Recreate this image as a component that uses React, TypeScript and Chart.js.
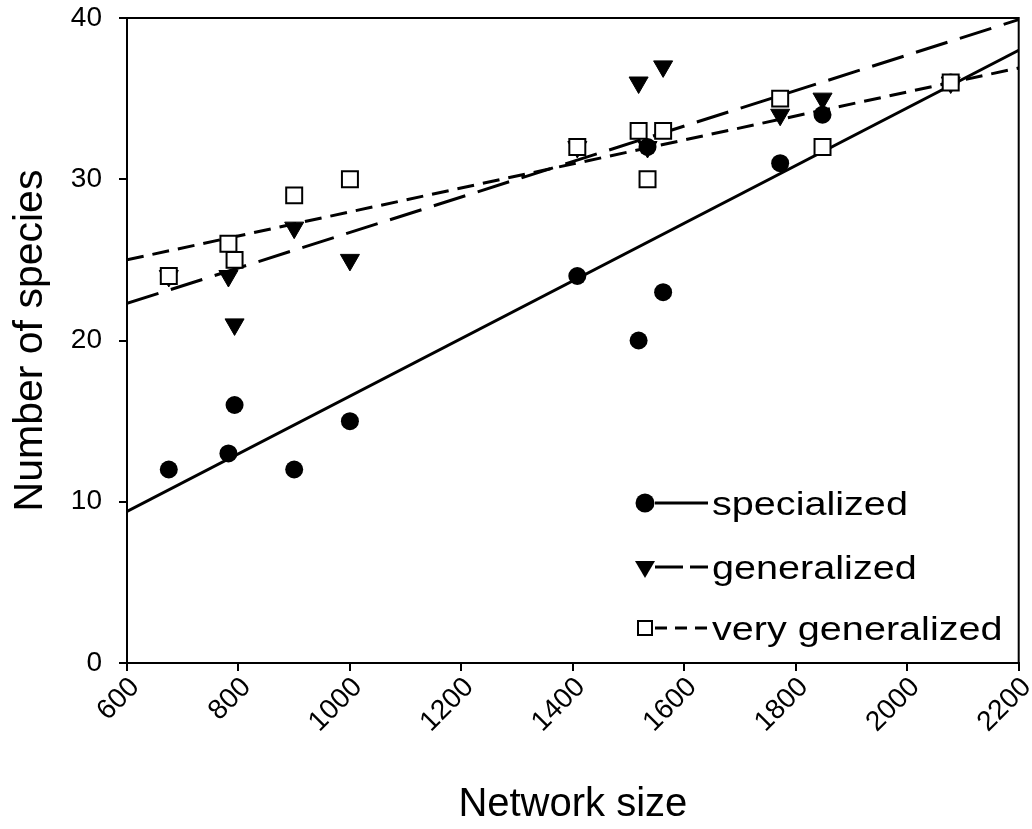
import React, { useEffect, useRef } from "react";
import { Chart, registerables } from "chart.js";

Chart.register(...registerables);

// ---- data ----
const networkSize = [675, 782, 793, 900, 1000, 1408, 1518, 1534, 1562, 1772, 1848, 2078];
const specialized = [12, 13, 16, 12, 15, 24, 20, 32, 23, 31, 34, 36];
const generalized = [24, 24, 21, 27, 25, 32, 36, 32, 37, 34, 35, 36];
const veryGeneralized = [24, 26, 25, 29, 30, 32, 33, 30, 33, 35, 32, 36];

const fitX = [600, 2200];
const specializedFit = [9.4, 38.0];
const generalizedFit = [22.3, 39.9];
const veryGeneralizedFit = [25.0, 36.9];

const legendLabels = ["specialized", "generalized", "very generalized"];
const xTitle = "Network size";
const yTitle = "Number of species";

const FONT = '"Liberation Sans", Arial, Helvetica, sans-serif';

const toPoints = (xs: number[], ys: number[]) => xs.map((x, i) => ({ x, y: ys[i] }));

const framePlugin = {
  id: "frame",
  afterDraw(chart: any) {
    const { ctx, chartArea } = chart;
    ctx.save();
    ctx.strokeStyle = "#000";
    ctx.lineWidth = 2;
    ctx.beginPath();
    ctx.moveTo(chartArea.left, chartArea.top);
    ctx.lineTo(chartArea.right, chartArea.top);
    ctx.lineTo(chartArea.right, chartArea.bottom);
    ctx.stroke();
    ctx.restore();
  },
};

const legendPlugin = {
  id: "customLegend",
  afterDraw(chart: any) {
    const ctx = chart.ctx as CanvasRenderingContext2D;
    const rows = [
      { label: legendLabels[0], marker: "circle", dash: [] as number[], y: 503 },
      { label: legendLabels[1], marker: "triangle", dash: [28, 7], y: 567 },
      { label: legendLabels[2], marker: "rect", dash: [12, 8], y: 628 },
    ];
    const mx = 645;
    ctx.save();
    rows.forEach((r) => {
      ctx.beginPath();
      ctx.setLineDash(r.dash);
      ctx.lineWidth = 3;
      ctx.strokeStyle = "#000";
      ctx.moveTo(655, r.y);
      ctx.lineTo(708, r.y);
      ctx.stroke();
      ctx.setLineDash([]);

      ctx.fillStyle = "#000";
      if (r.marker === "circle") {
        ctx.beginPath();
        ctx.arc(mx, r.y, 9.5, 0, Math.PI * 2);
        ctx.fill();
      } else if (r.marker === "triangle") {
        ctx.beginPath();
        ctx.moveTo(mx - 10, r.y - 6);
        ctx.lineTo(mx + 10, r.y - 6);
        ctx.lineTo(mx, r.y + 11);
        ctx.closePath();
        ctx.fill();
      } else {
        ctx.fillStyle = "#fff";
        ctx.fillRect(mx - 7, r.y - 7, 14, 14);
        ctx.lineWidth = 2;
        ctx.strokeStyle = "#000";
        ctx.strokeRect(mx - 7, r.y - 7, 14, 14);
      }

      ctx.save();
      ctx.translate(712, r.y + 12);
      ctx.scale(1.2, 1);
      ctx.font = `33px ${FONT}`;
      ctx.fillStyle = "#000";
      ctx.textAlign = "left";
      ctx.textBaseline = "alphabetic";
      ctx.fillText(r.label, 0, 0);
      ctx.restore();
    });
    ctx.restore();
  },
};

export default function App() {
  const canvasRef = useRef<HTMLCanvasElement | null>(null);

  useEffect(() => {
    if (!canvasRef.current) return;
    const chart = new Chart(canvasRef.current, {
      type: "scatter",
      data: {
        datasets: [
          {
            label: legendLabels[2],
            data: toPoints(networkSize, veryGeneralized),
            pointStyle: "rect",
            pointRadius: 11.3,
            backgroundColor: "#fff",
            borderColor: "#000",
            borderWidth: 2,
            showLine: false,
          },
          {
            label: legendLabels[1],
            data: toPoints(networkSize, generalized),
            pointStyle: "triangle",
            pointRotation: 180,
            pointRadius: 11,
            backgroundColor: "#000",
            borderColor: "#000",
            borderWidth: 1,
            showLine: false,
          },
          {
            label: legendLabels[0],
            data: toPoints(networkSize, specialized),
            pointStyle: "circle",
            pointRadius: 9,
            backgroundColor: "#000",
            borderColor: "#000",
            borderWidth: 0,
            showLine: false,
          },
          {
            label: legendLabels[0] + " fit",
            data: toPoints(fitX, specializedFit),
            showLine: true,
            borderColor: "#000",
            borderWidth: 3,
            pointRadius: 0,
            fill: false,
          },
          {
            label: legendLabels[1] + " fit",
            data: toPoints(fitX, generalizedFit),
            showLine: true,
            borderColor: "#000",
            borderWidth: 3,
            borderDash: [33, 13],
            pointRadius: 0,
            fill: false,
          },
          {
            label: legendLabels[2] + " fit",
            data: toPoints(fitX, veryGeneralizedFit),
            showLine: true,
            borderColor: "#000",
            borderWidth: 3,
            borderDash: [17, 9],
            pointRadius: 0,
            fill: false,
          },
        ] as any,
      },
      options: {
        animation: false,
        responsive: false,
        events: [],
        layout: { padding: { top: 18, right: 11, bottom: 0, left: 0 } },
        plugins: {
          legend: { display: false },
          tooltip: { enabled: false },
          title: { display: false },
        },
        scales: {
          x: {
            type: "linear",
            min: 600,
            max: 2200,
            ticks: {
              stepSize: 200,
              minRotation: 45,
              maxRotation: 45,
              color: "#000",
              padding: 0,
              labelOffset: 8,
              font: { size: 28, family: FONT },
              callback: (v: any) => String(v),
            },
            grid: {
              drawOnChartArea: false,
              drawTicks: true,
              tickLength: 8,
              color: "#000",
              lineWidth: 2,
            },
            border: { display: true, color: "#000", width: 2 },
            title: {
              display: true,
              text: xTitle,
              color: "#000",
              font: { size: 40, family: FONT },
              padding: { top: 0, bottom: 0 },
            },
            afterFit(scale: any) {
              scale.height = 166;
              scale.paddingLeft = 0;
              scale.paddingRight = 0;
            },
          },
          y: {
            type: "linear",
            min: 0,
            max: 40,
            ticks: {
              stepSize: 10,
              color: "#000",
              padding: 17,
              font: { size: 28, family: FONT },
              callback: (v: any) => String(v),
            },
            grid: {
              drawOnChartArea: false,
              drawTicks: true,
              tickLength: 8,
              color: "#000",
              lineWidth: 2,
            },
            border: { display: true, color: "#000", width: 2 },
            title: {
              display: true,
              text: yTitle,
              color: "#000",
              font: { size: 41, family: FONT },
              padding: { top: 6, bottom: 0 },
            },
            afterFit(scale: any) {
              scale.width = 127;
              scale.paddingTop = 0;
              scale.paddingBottom = 0;
            },
          },
        },
      } as any,
      plugins: [framePlugin, legendPlugin],
    });
    return () => chart.destroy();
  }, []);

  return (
    <div style={{ position: "absolute", left: 0, top: 0, width: 1032, height: 829, background: "#fff" }}>
      <canvas ref={canvasRef} width={1032} height={829} style={{ display: "block" }} />
    </div>
  );
}
